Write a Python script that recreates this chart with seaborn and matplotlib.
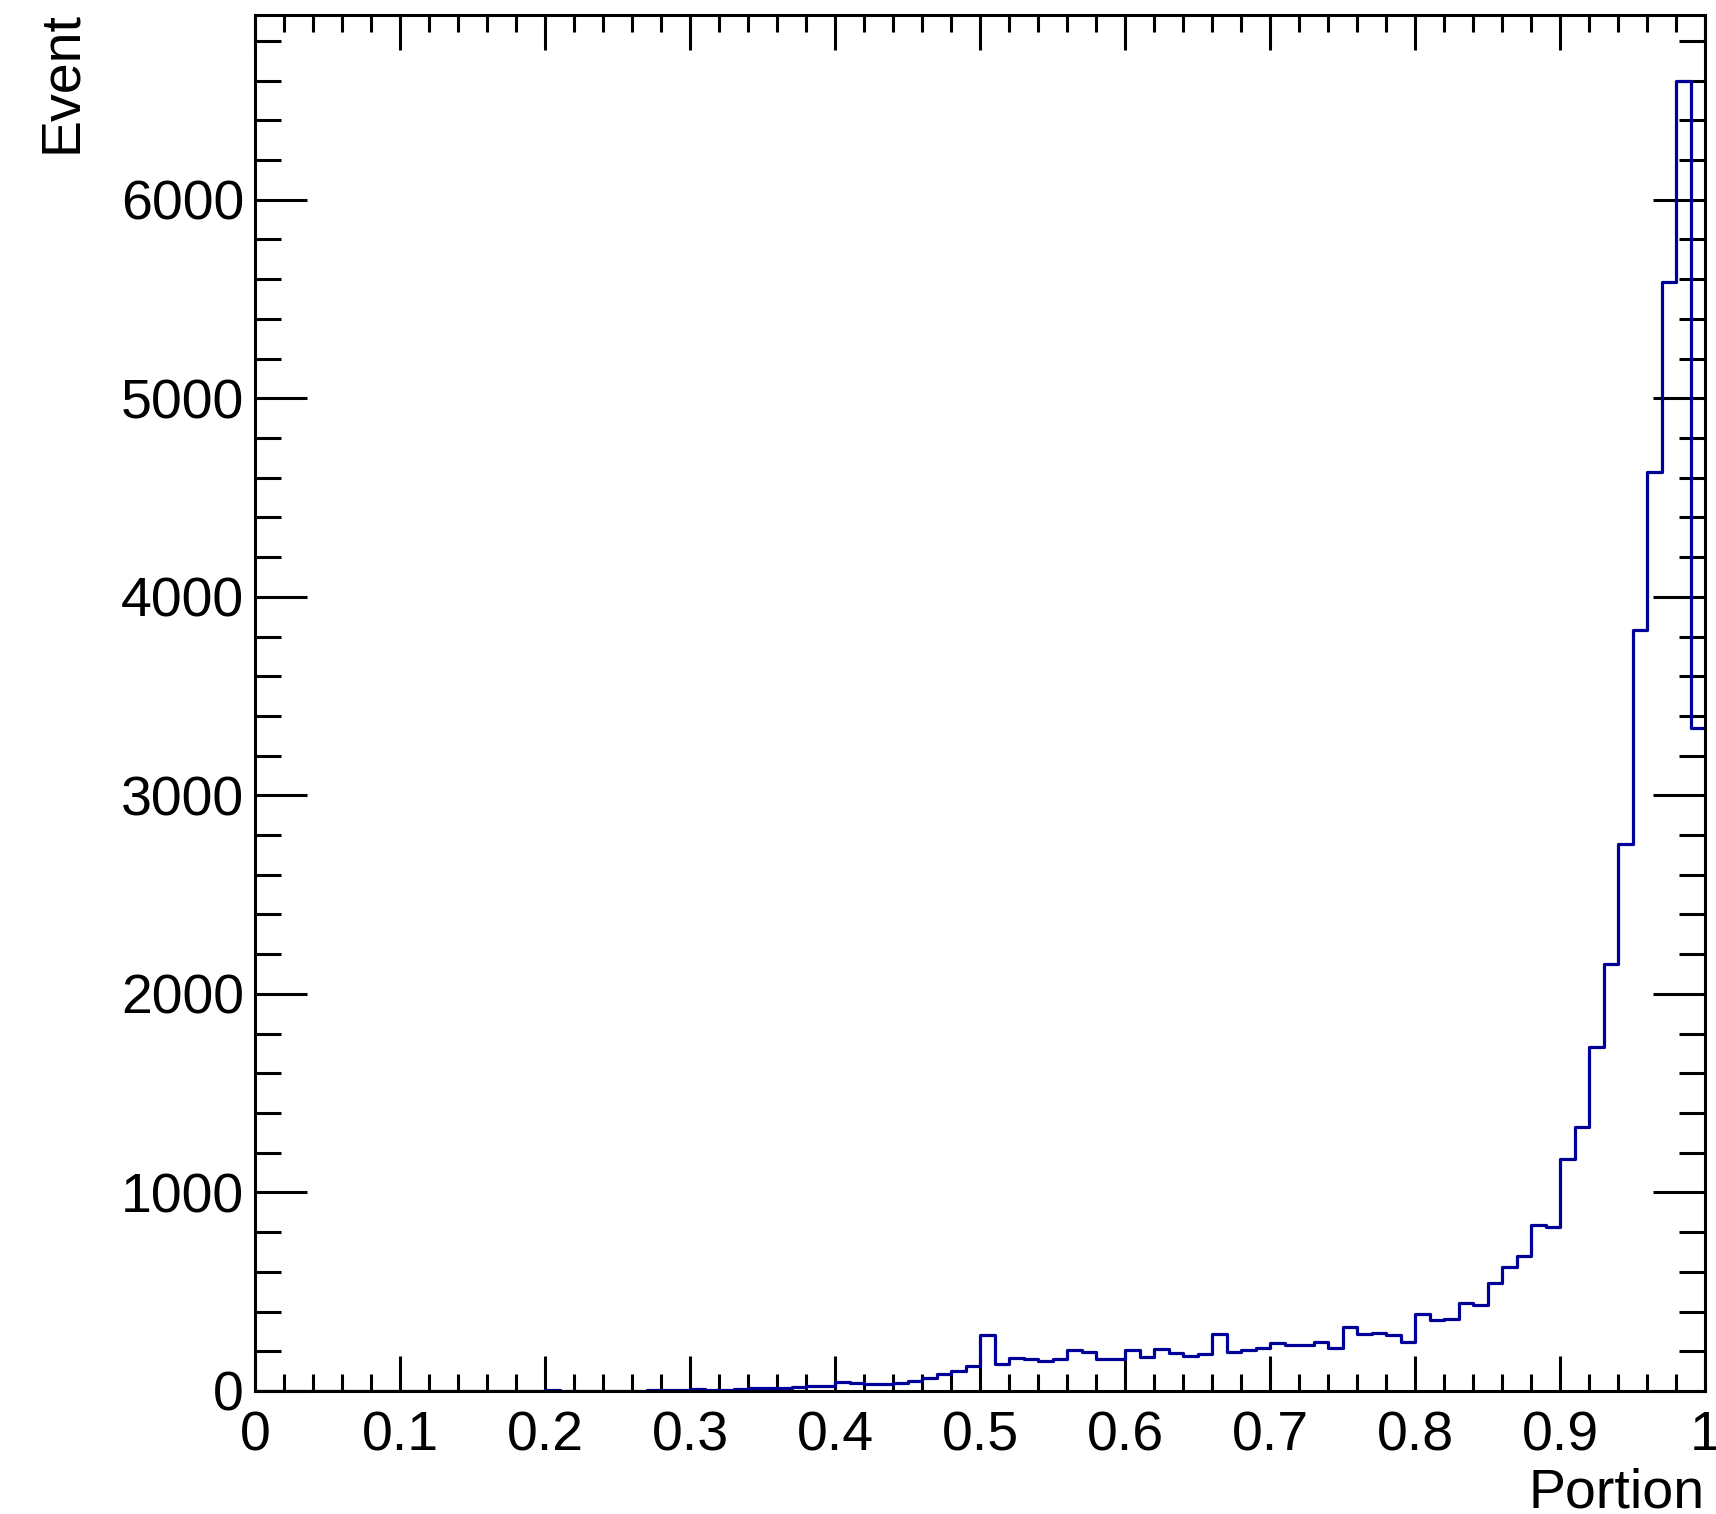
import numpy as np
import pandas as pd
import matplotlib
matplotlib.use("Agg")
import matplotlib.pyplot as plt
import seaborn as sns
from matplotlib.ticker import MultipleLocator, AutoMinorLocator, FuncFormatter

# ---- data (100 bins from 0 to 1) ----
bin_edges = list(np.round(np.linspace(0.0, 1.0, 101), 2))
zero_counts = [0] * 20  # 0.00 - 0.20
counts_020_099 = [
    3, 0, 0, 0, 0, 2, 0, 3, 5, 6,          # 0.20 - 0.30
    8, 7, 5, 12, 13, 16, 17, 19, 27, 24,   # 0.30 - 0.40
    44, 40, 37, 34, 38, 48, 65, 85, 100, 128,   # 0.40 - 0.50
    282, 136, 168, 160, 151, 161, 207, 196, 160, 163,  # 0.50 - 0.60
    208, 171, 213, 193, 178, 186, 289, 196, 208, 218,  # 0.60 - 0.70
    242, 232, 232, 247, 217, 322, 285, 294, 283, 248,  # 0.70 - 0.80
    387, 357, 361, 442, 435, 545, 626, 682, 835, 828,  # 0.80 - 0.90
    1169, 1329, 1733, 2152, 2757, 3832, 4630, 5586, 6598, 3341,  # 0.90 - 1.00
]
counts = zero_counts + counts_020_099
assert len(counts) == 100
bin_centers = [(bin_edges[i] + bin_edges[i + 1]) / 2 for i in range(100)]

df = pd.DataFrame({"Portion": bin_centers, "Event": counts})

# ---- style ----
sns.set_style("ticks")
plt.rcParams["font.family"] = ["Liberation Sans", "DejaVu Sans"]
plt.rcParams["axes.linewidth"] = 2.2
plt.rcParams["text.color"] = "black"
plt.rcParams["axes.labelcolor"] = "black"

fig = plt.figure(figsize=(17.16, 15.14), dpi=100)
ax = fig.add_axes([0.1486, 0.0813, 0.9936 - 0.1486, 0.990 - 0.0813])

sns.histplot(data=df, x="Portion", weights="Event", bins=bin_edges,
             element="step", fill=False, color="#000099", linewidth=2.3, ax=ax)

ax.set_xlim(0, 1)
ax.set_ylim(0, 6930)

ax.xaxis.set_major_locator(MultipleLocator(0.1))
ax.xaxis.set_minor_locator(AutoMinorLocator(5))
ax.yaxis.set_major_locator(MultipleLocator(1000))
ax.yaxis.set_minor_locator(AutoMinorLocator(5))
ax.xaxis.set_major_formatter(FuncFormatter(lambda v, p: "%g" % round(v, 2)))
ax.yaxis.set_major_formatter(FuncFormatter(lambda v, p: "%d" % round(v)))

ax.tick_params(which="both", direction="in", top=True, right=True,
               width=2.2, colors="black", labelsize=40)
ax.tick_params(axis="x", which="major", length=25, pad=14)
ax.tick_params(axis="x", which="minor", length=12.5)
ax.tick_params(axis="y", which="major", length=37.5, pad=8)
ax.tick_params(axis="y", which="minor", length=18.7)

for s in ax.spines.values():
    s.set_visible(True)
    s.set_linewidth(2.2)
    s.set_color("black")

ax.set_xlabel("Portion", fontsize=40, loc="right", color="black")
ax.set_ylabel("Event", fontsize=40, loc="top", color="black")
ax.xaxis.set_label_coords(1.0, -0.056)
ax.yaxis.set_label_coords(-0.1155, 1.003)

fig.savefig("out.png", dpi=100, facecolor="white")
